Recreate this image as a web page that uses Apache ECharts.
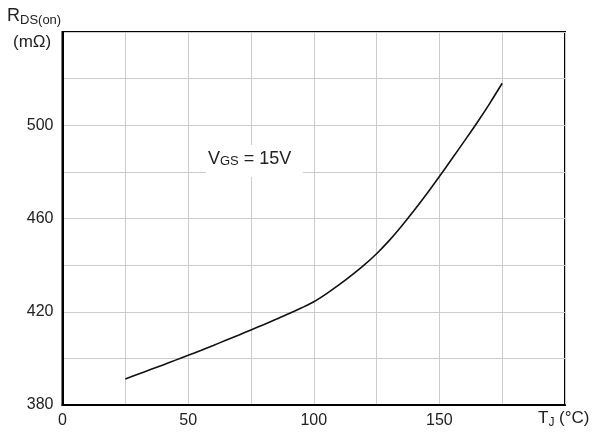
<!DOCTYPE html>
<html>
<head>
<meta charset="utf-8">
<script src="https://cdn.jsdelivr.net/npm/echarts@6/dist/echarts.min.js"></script>
<style>html,body{margin:0;padding:0;background:#fff}#c{width:595px;height:435px}</style>
</head>
<body>
<div id="c"></div>
<script>
var temps = [25, 30, 35, 40, 45, 50, 55, 60, 65, 70, 75, 80, 85, 90, 95, 100, 105, 110, 115, 120, 125, 130, 135, 140, 145, 150, 155, 160, 165, 170, 175];
var rdson = [391.2, 393.2, 395.2, 397.2, 399.25, 401.3, 403.4, 405.55, 407.75, 409.95, 412.2, 414.45, 416.75, 419.1, 421.6, 424.3, 427.7, 431.5, 435.6, 440.0, 444.9, 450.5, 456.8, 463.5, 470.6, 478.0, 485.6, 493.3, 501.1, 509.3, 518.0];
var xLabels = [0, 50, 100, 150];
var yLabels = [380, 420, 460, 500];

var font = 'Liberation Sans, Arial, sans-serif';
var txt = '#222';
var chart = echarts.init(document.getElementById('c'), null, {renderer: 'canvas'});
chart.setOption({
  animation: false,
  grid: {left: 62.5, right: 30, top: 32, bottom: 30, show: true, borderColor: '#000', borderWidth: 2, backgroundColor: 'transparent'},
  xAxis: {
    type: 'value', min: 0, max: 200, interval: 25,
    axisLine: {show: true, lineStyle: {color: '#000', width: 2}},
    axisTick: {show: false},
    splitLine: {show: true, lineStyle: {color: '#cccccc', width: 1}},
    axisLabel: {margin: 8, fontFamily: font, fontSize: 16, color: txt,
      formatter: function (v) { return xLabels.indexOf(v) >= 0 ? String(v) : ''; }}
  },
  yAxis: {
    type: 'value', min: 380, max: 540, interval: 20,
    axisLine: {show: true, lineStyle: {color: '#000', width: 2}},
    axisTick: {show: false},
    splitLine: {show: true, lineStyle: {color: '#cccccc', width: 1}},
    axisLabel: {margin: 9, fontFamily: font, fontSize: 16, color: txt,
      formatter: function (v) { return yLabels.indexOf(v) >= 0 ? String(v) : ''; }}
  },
  series: [{
    type: 'line', smooth: 0.3, symbol: 'none',
    lineStyle: {color: '#111', width: 1.6},
    data: temps.map(function (t, i) { return [t, rdson[i]]; }),
    z: 3
  }],
  graphic: [
    {type: 'rect', shape: {x: 206, y: 145, width: 97, height: 32}, style: {fill: '#fff'}, z: 50},
    {type: 'text', left: 208, top: 150, z: 51, style: {
      rich: {
        b: {fontFamily: font, fontSize: 18, fill: txt},
        s: {fontFamily: font, fontSize: 13, fill: txt, padding: [5, 0, 0, 0]}
      },
      text: '{b|V}{s|GS}{b| = 15V}'
    }},
    {type: 'text', left: 7, top: 7, z: 51, style: {
      rich: {
        b: {fontFamily: font, fontSize: 18, fill: txt},
        s: {fontFamily: font, fontSize: 13, fill: txt, padding: [9, 0, 0, 0]}
      },
      text: '{b|R}{s|DS(on)}'
    }},
    {type: 'text', left: 13, top: 34, z: 51, style: {fontFamily: font, fontSize: 17, fill: txt, text: '(mΩ)'}},
    {type: 'text', left: 538, top: 410, z: 51, style: {
      rich: {
        b: {fontFamily: font, fontSize: 17, fill: txt},
        s: {fontFamily: font, fontSize: 12, fill: txt, padding: [8, 0, 0, 0]}
      },
      text: '{b|T}{s|J}{b| (°C)}'
    }}
  ]
});
</script>
</body>
</html>
